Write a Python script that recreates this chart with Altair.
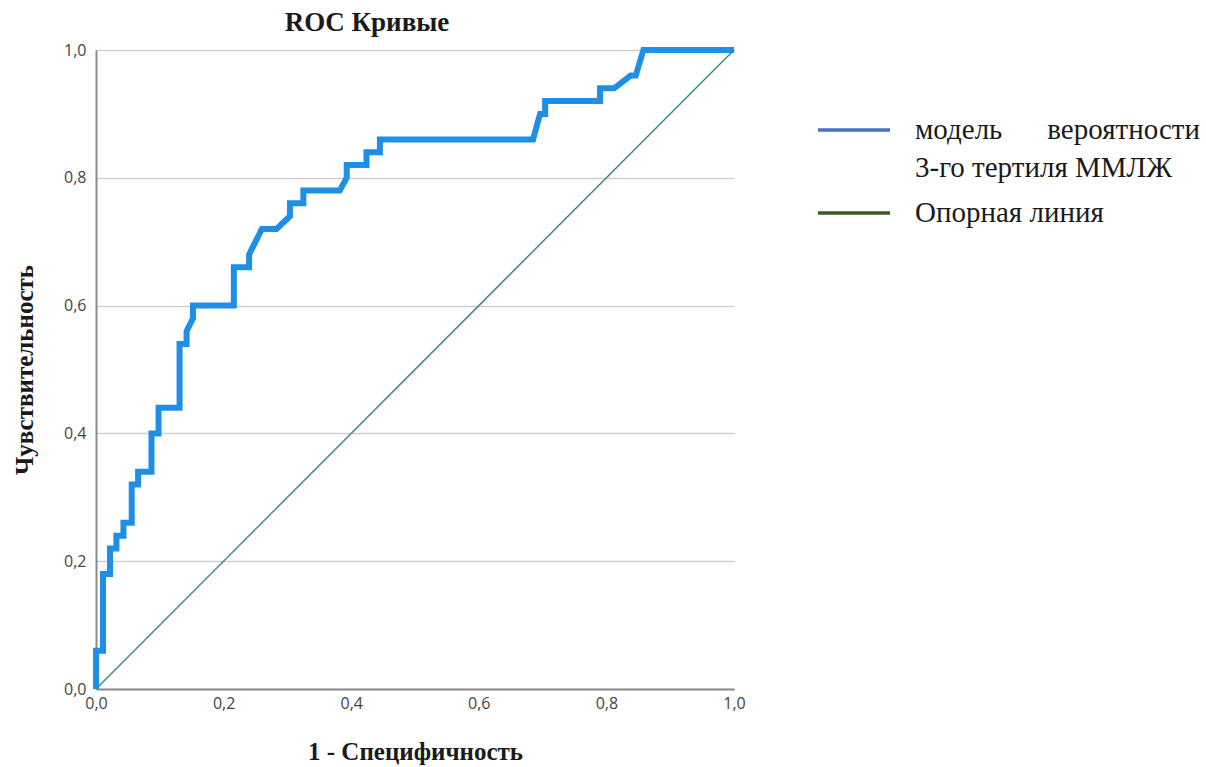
import altair as alt
import pandas as pd

# ROC curve points (1 - specificity, sensitivity)
fpr = [0.0, 0.0, 0.011, 0.011, 0.022, 0.022, 0.032, 0.032, 0.043, 0.043,
       0.056, 0.056, 0.066, 0.066, 0.087, 0.087, 0.098, 0.098, 0.131, 0.131,
       0.142, 0.142, 0.152, 0.152, 0.216, 0.216, 0.240, 0.240, 0.260, 0.283,
       0.304, 0.304, 0.325, 0.325, 0.382, 0.393, 0.393, 0.424, 0.424, 0.445,
       0.445, 0.685, 0.696, 0.704, 0.704, 0.790, 0.790, 0.812, 0.838, 0.846,
       0.858, 1.0]
tpr = [0.0, 0.06, 0.06, 0.18, 0.18, 0.22, 0.22, 0.24, 0.24, 0.26,
       0.26, 0.32, 0.32, 0.34, 0.34, 0.40, 0.40, 0.44, 0.44, 0.54,
       0.54, 0.56, 0.58, 0.60, 0.60, 0.66, 0.66, 0.68, 0.72, 0.72,
       0.74, 0.76, 0.76, 0.78, 0.78, 0.80, 0.82, 0.82, 0.84, 0.84,
       0.86, 0.86, 0.90, 0.90, 0.92, 0.92, 0.94, 0.94, 0.96, 0.96,
       1.0, 1.0]

ref_x = [0.0, 1.0]
ref_y = [0.0, 1.0]

tick_values = [0.0, 0.2, 0.4, 0.6, 0.8, 1.0]

title_text = "ROC Кривые"
x_title = "1 - Специфичность"
y_title = "Чувствительность"
legend_line1a = "модель"
legend_line1b = "вероятности"
legend_line2 = "3-го тертиля ММЛЖ"
legend_ref = "Опорная линия"

roc_df = pd.DataFrame({"fpr": fpr, "tpr": tpr, "order": list(range(len(fpr)))})
ref_df = pd.DataFrame({"fpr": ref_x, "tpr": ref_y, "order": [0, 1]})

lab = "replace(format(datum.value, '.1f'), '.', ',')"
axis_style = dict(labelFont="Open Sans", labelFontSize=16, labelColor="#444444",
                  titleFont="Liberation Serif", titleFontSize=25, titleFontWeight="bold",
                  titleColor="#1a1a1a", domainColor="#8c8c8c", domainWidth=2,
                  gridColor="#cfcfcf", gridWidth=1.5, ticks=False, labelFlush=False)

x_enc = alt.X(
    "fpr:Q",
    scale=alt.Scale(domain=[0, 1], nice=False),
    axis=alt.Axis(values=tick_values, labelExpr=lab, title=x_title, grid=False,
                  labelPadding=6, titlePadding=28, **axis_style),
)
y_enc = alt.Y(
    "tpr:Q",
    scale=alt.Scale(domain=[0, 1], nice=False),
    axis=alt.Axis(values=tick_values, labelExpr=lab, title=y_title, grid=True,
                  labelPadding=10, titlePadding=26, **axis_style),
)

roc_line = alt.Chart(roc_df).mark_line(
    color="#1f8ee6", strokeWidth=6, strokeJoin="miter"
).encode(x=x_enc, y=y_enc, order="order:Q")

ref_line = alt.Chart(ref_df).mark_line(
    color="#3d8c7d", strokeWidth=1.5
).encode(x="fpr:Q", y="tpr:Q", order="order:Q")

one = lambda s: pd.DataFrame({"t": [s]})
txt_style = dict(font="Liberation Serif", fontSize=29, color="#1a1a1a", baseline="middle")

leg_blue = alt.Chart(one("a")).mark_rule(color="#4472c4", strokeWidth=3.5).encode(
    x=alt.value(722), x2=alt.value(794), y=alt.value(80))
leg_green = alt.Chart(one("b")).mark_rule(color="#3b5a27", strokeWidth=3.5).encode(
    x=alt.value(722), x2=alt.value(794), y=alt.value(163))
t1a = alt.Chart(one(legend_line1a)).mark_text(align="left", **txt_style).encode(
    x=alt.value(819), y=alt.value(80), text="t:N")
t1b = alt.Chart(one(legend_line1b)).mark_text(align="right", **txt_style).encode(
    x=alt.value(1104), y=alt.value(80), text="t:N")
t2 = alt.Chart(one(legend_line2)).mark_text(align="left", **txt_style).encode(
    x=alt.value(819), y=alt.value(118), text="t:N")
t3 = alt.Chart(one(legend_ref)).mark_text(align="left", **txt_style).encode(
    x=alt.value(819), y=alt.value(163), text="t:N")

chart = alt.layer(
    roc_line, ref_line, leg_blue, leg_green, t1a, t1b, t2, t3
).properties(
    width=638,
    height=639,
    title=alt.TitleParams(title_text, anchor="middle", dx=-48, offset=1,
                          font="Liberation Serif", fontSize=27, fontWeight="bold",
                          color="#1a1a1a"),
    autosize=alt.AutoSizeParams(type="none"),
    padding={"left": 96, "top": 50, "right": 472, "bottom": 78},
    background="white",
).configure_view(stroke=None)

chart.save("out.html", embed_options={"renderer": "svg", "actions": False})
